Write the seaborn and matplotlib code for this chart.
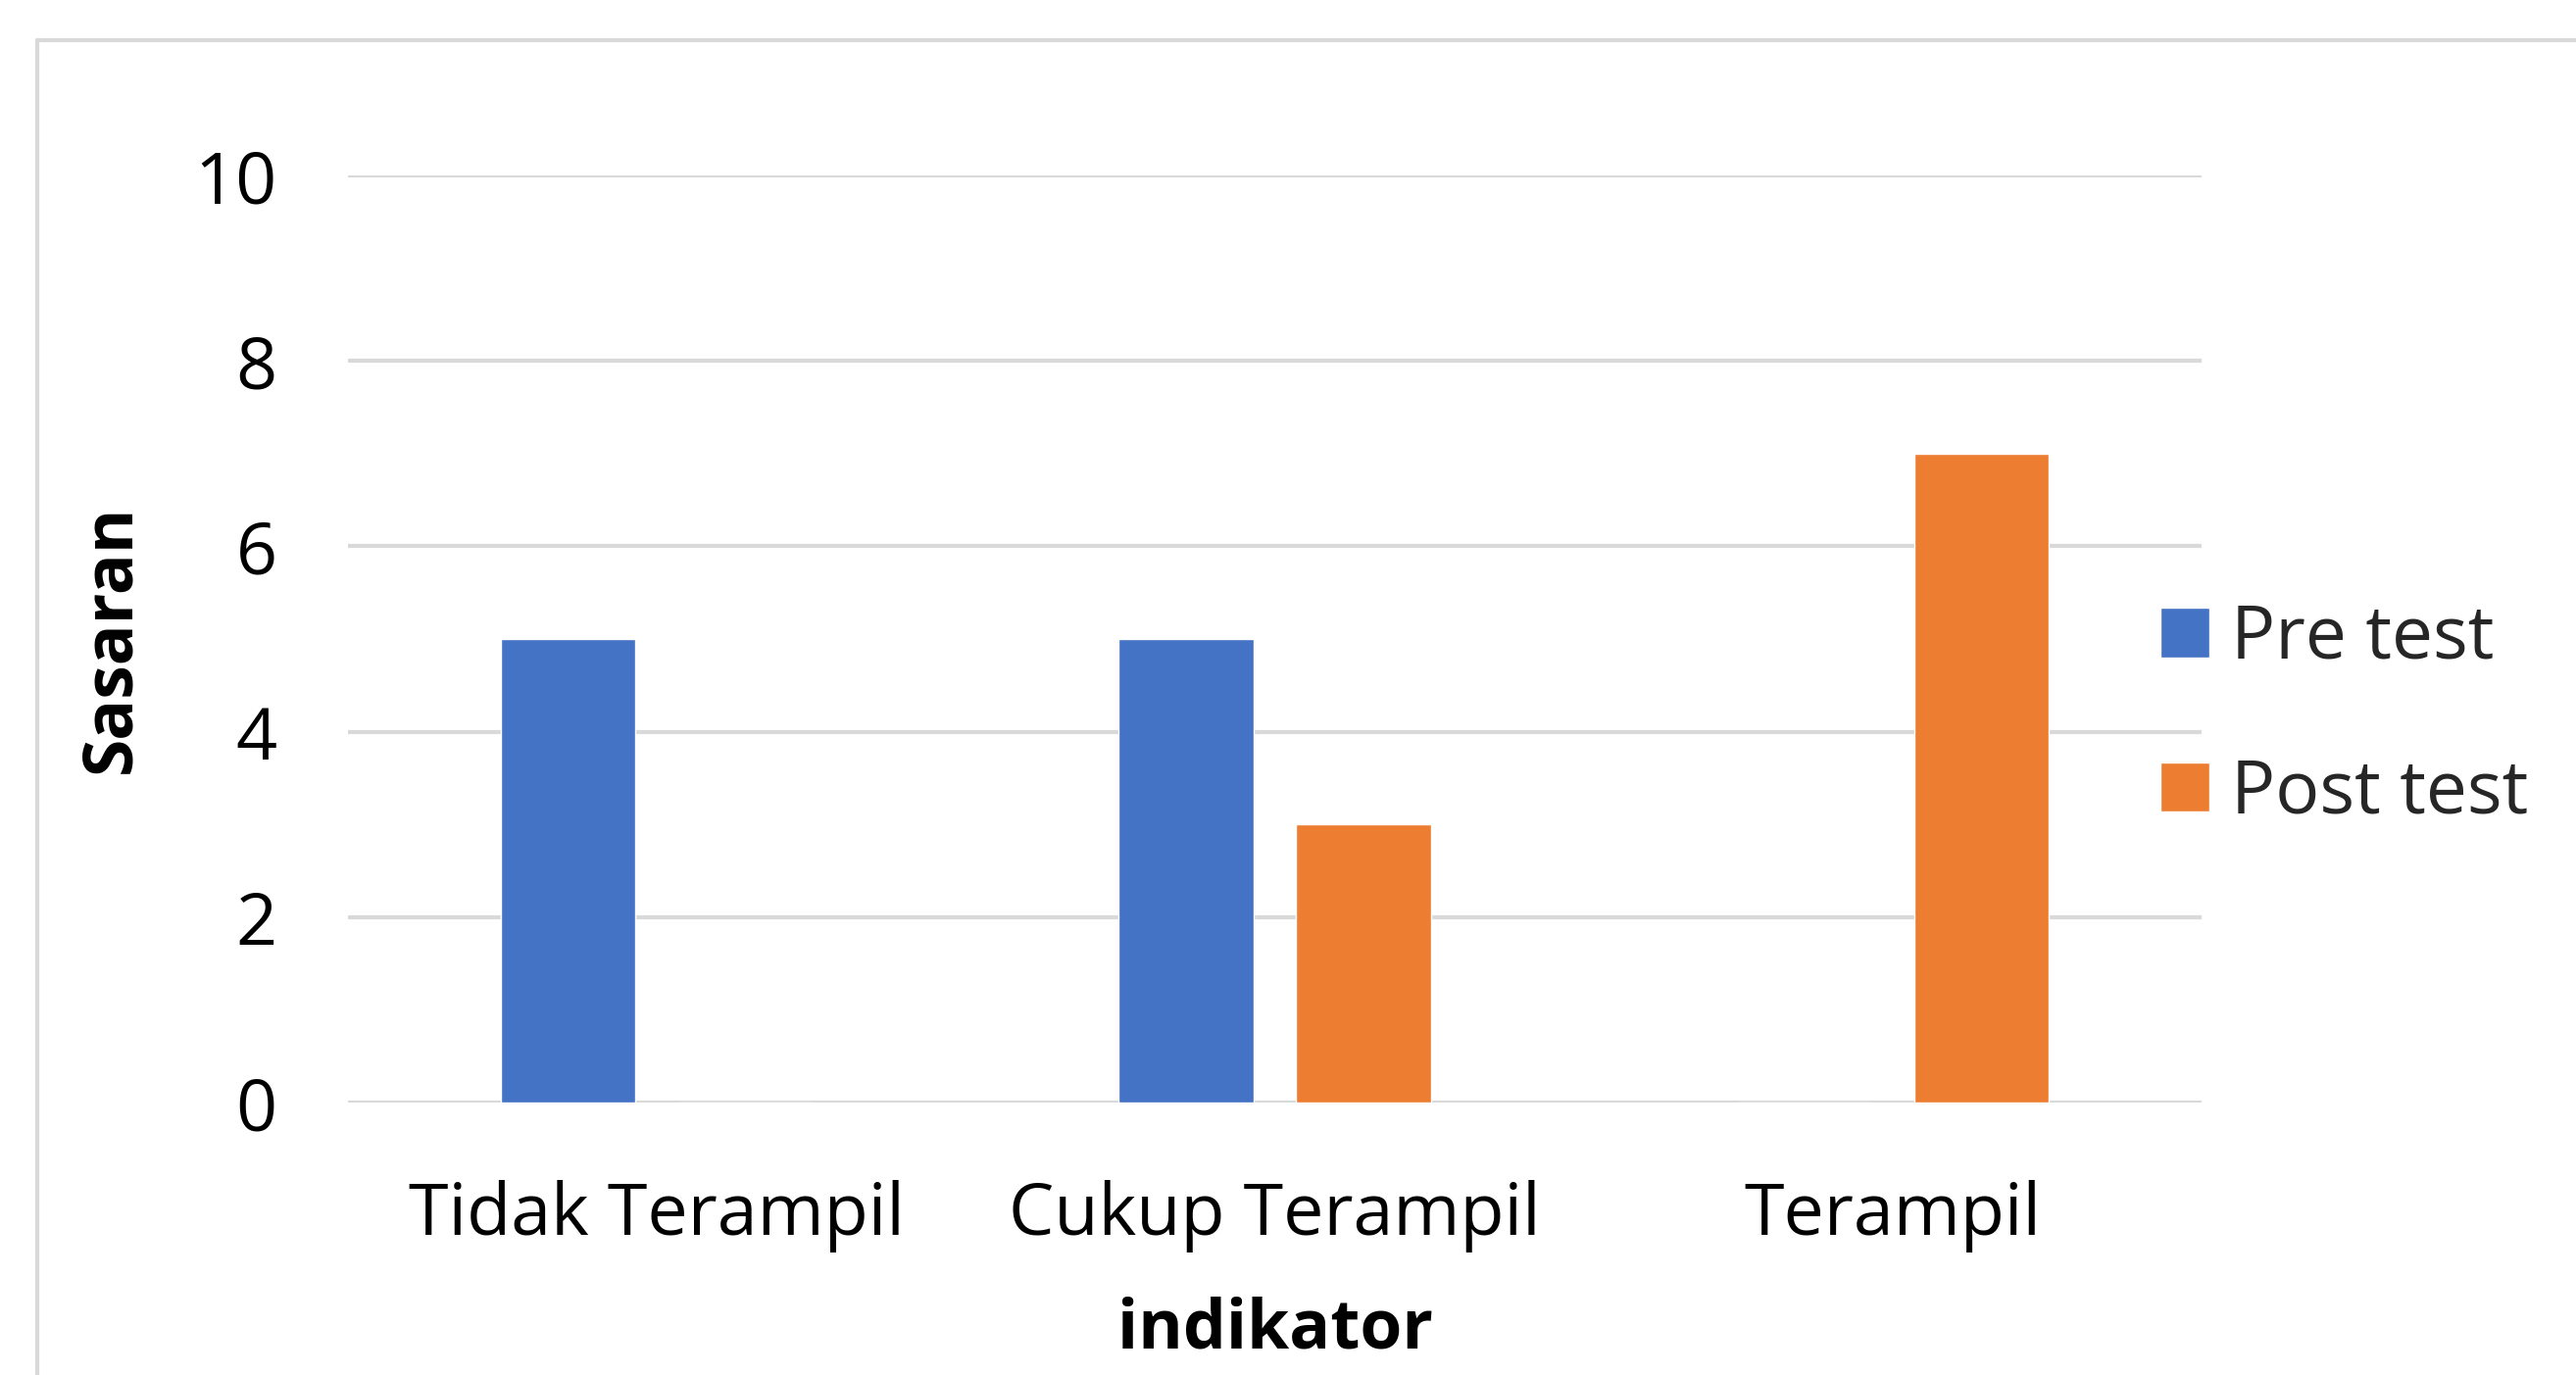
import matplotlib
matplotlib.use("Agg")
import matplotlib.pyplot as plt
from matplotlib.lines import Line2D
import seaborn as sns
import pandas as pd

categories = ["Tidak Terampil", "Cukup Terampil", "Terampil"]
pre_test = [5, 5, 0]
post_test = [0, 3, 7]
series_names = ["Pre test", "Post test"]
y_ticks = [0, 2, 4, 6, 8, 10]

df = pd.DataFrame({
    "indikator": categories * 2,
    "Sasaran": pre_test + post_test,
    "seri": [series_names[0]] * len(categories) + [series_names[1]] * len(categories),
})

sns.set_theme(style="white")
plt.rcParams["font.family"] = ["Open Sans", "DejaVu Sans"]

W, H = 2628, 1403
fig = plt.figure(figsize=(W / 100, H / 100), dpi=100)
fig.patch.set_facecolor("white")

ax = fig.add_axes([355 / W, 1 - 1125 / H, (2246 - 355) / W, (1125 - 179) / H])

sns.barplot(
    data=df, x="indikator", y="Sasaran", hue="seri",
    order=categories, hue_order=series_names,
    palette=["#4472C4", "#ED7D31"],
    width=0.574, gap=0.24, saturation=1, ax=ax, legend=True,
)

ax.set_ylim(0, 10)
ax.set_yticks(y_ticks)
ax.set_yticklabels([str(t) for t in y_ticks])
ax.yaxis.grid(True, color="#D9D9D9", linewidth=3)
ax.set_axisbelow(True)
for s in ax.spines.values():
    s.set_visible(False)
ax.tick_params(axis="both", length=0, labelsize=53, colors="black")
ax.tick_params(axis="y", pad=52)
ax.tick_params(axis="x", pad=57)

ax.set_ylabel("Sasaran", fontsize=50, fontweight="bold", color="black")
ax.set_xlabel("indikator", fontsize=50, fontweight="bold", color="black")
ax.yaxis.set_label_coords(-0.1275, 0.5)
ax.xaxis.set_label_coords(0.5, -0.246)
ax.xaxis.label.set_va("center")
ax.yaxis.label.set_va("center")

handles, labels = ax.get_legend_handles_labels()
ax.legend(
    handles, labels, loc="center left",
    bbox_to_anchor=(2204 / W, 1 - 731 / H), bbox_transform=fig.transFigure,
    frameon=False, fontsize=54, handlelength=0.66, handleheight=0.66,
    handletextpad=0.3, labelspacing=1.1, borderpad=0, borderaxespad=0,
)

# outer chart-area border (top and left edges)
fig.add_artist(Line2D([38 / W, 1.0], [1 - 41 / H, 1 - 41 / H],
                      transform=fig.transFigure, color="#D9D9D9", lw=3))
fig.add_artist(Line2D([38 / W, 38 / W], [0.0, 1 - 41 / H],
                      transform=fig.transFigure, color="#D9D9D9", lw=3))

fig.savefig("out.png", dpi=100, facecolor="white")
